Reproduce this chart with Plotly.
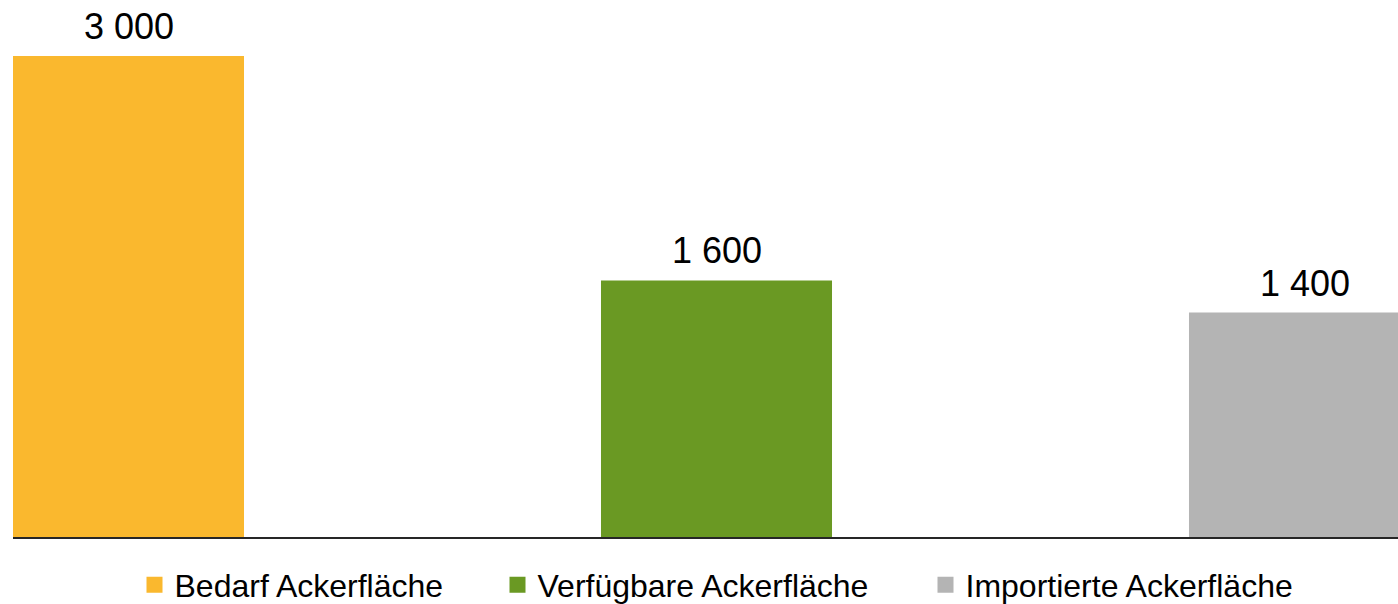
import plotly.graph_objects as go

categories = ["Bedarf Ackerfläche", "Verfügbare Ackerfläche", "Importierte Ackerfläche"]
values = [3000, 1600, 1400]
colors = ["#FAB82E", "#6A9923", "#B4B4B4"]

FONT = "Liberation Sans, Arial, sans-serif"
W, H = 1398, 604

fig = go.Figure()
for i, (c, v, col) in enumerate(zip(categories, values, colors)):
    fig.add_trace(go.Bar(x=[c], y=[v], marker=dict(color=col, line=dict(width=0)),
                         width=0.3929, showlegend=False, hoverinfo="skip"))

legend_lefts = [134.5, 497.5, 925.5]
legend_names = ["legend", "legend2", "legend3"]
for c, col, ln in zip(categories, colors, legend_names):
    fig.add_trace(go.Scatter(x=[None], y=[None], mode="markers", name=c,
                             marker=dict(symbol="square", size=16, color=col),
                             legend=ln, showlegend=True))

for c, v in zip(categories, values):
    fig.add_annotation(x=c, y=v, text=f"{v:,}".replace(",", " "), showarrow=False,
                       yanchor="bottom", yshift=7, font=dict(size=36, color="#000000", family=FONT))

legend_common = dict(orientation="h", xref="container", yref="container", xanchor="left",
                     yanchor="middle", y=1 - 585.0 / H, font=dict(size=32, color="#000000", family=FONT),
                     bgcolor="rgba(0,0,0,0)", borderwidth=0)
layout_legends = {}
for ln, left in zip(legend_names, legend_lefts):
    layout_legends[ln] = dict(legend_common, x=left / W)

fig.update_layout(
    width=W, height=H,
    margin=dict(l=13, r=0, t=0, b=67),
    paper_bgcolor="white", plot_bgcolor="white",
    barmode="overlay",
    font=dict(family=FONT, color="#000000"),
    xaxis=dict(type="category", categoryorder="array", categoryarray=categories,
               range=[-0.19643, 2.15901], showticklabels=False, ticks="",
               showgrid=False, zeroline=False, showline=True, linecolor="#262626", linewidth=2,
               fixedrange=True),
    yaxis=dict(range=[0, 3349], visible=False, showgrid=False, zeroline=False, fixedrange=True),
    **layout_legends,
)

fig.write_html("out.html", config={"displayModeBar": False},
               post_script="document.body.style.margin='0';document.body.style.overflow='hidden';")
